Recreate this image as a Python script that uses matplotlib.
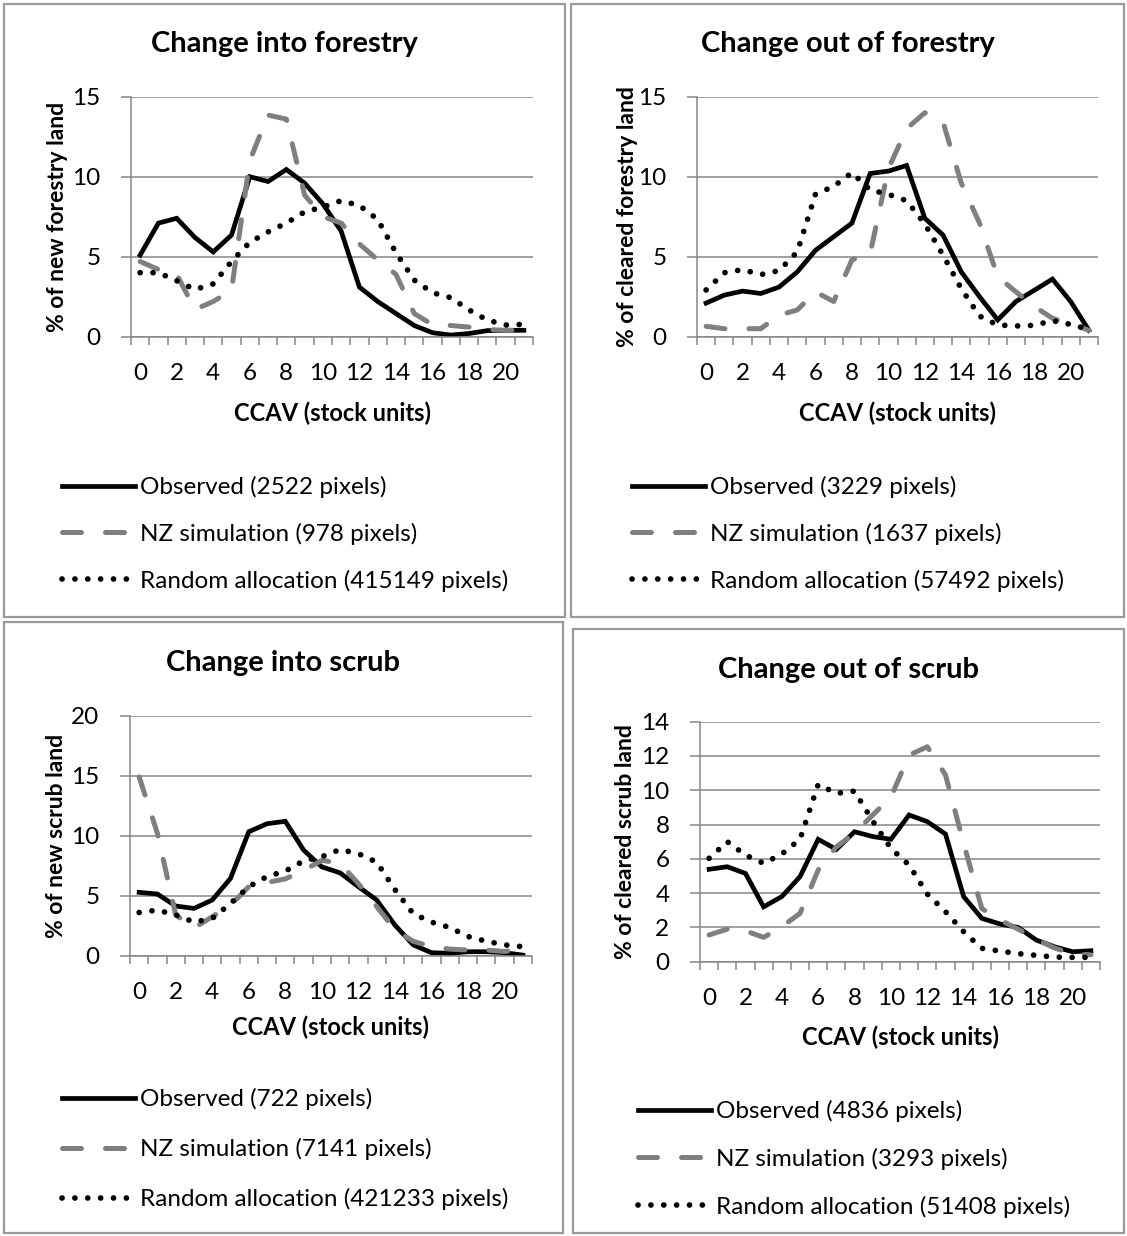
import matplotlib
matplotlib.use("Agg")
import matplotlib.pyplot as plt
import matplotlib.patches as patches

plt.rcParams["font.family"] = ["Lato", "DejaVu Sans"]

W, H = 1127, 1236

# ---- data ----
ccav = list(range(22))
xtick_labels = [str(v) for v in range(0, 21, 2)]

# Change into forestry
fi_obs = [5.1, 7.1, 7.4, 6.2, 5.3, 6.35, 10.0, 9.7, 10.45, 9.6, 8.3, 6.6,
          3.1, 2.2, 1.45, 0.7, 0.25, 0.1, 0.2, 0.38, 0.4, 0.4]
fi_nz = [4.7, 4.2, 3.9, 1.7, 2.2, 2.9, 11.0, 13.85, 13.6, 8.85, 7.5, 7.1,
         5.8, 4.8, 3.9, 1.45, 0.75, 0.7, 0.6, 0.45, 0.4, 0.4]
fi_rnd = [4.0, 4.0, 3.5, 2.95, 3.3, 4.7, 5.9, 6.55, 7.1, 7.8, 8.1, 8.5,
          8.2, 7.33, 5.25, 3.54, 2.75, 2.44, 1.67, 1.04, 0.73, 0.77]

# Change out of forestry
fo_obs = [2.1, 2.6, 2.85, 2.7, 3.1, 4.05, 5.4, 6.25, 7.1, 10.2, 10.35, 10.7,
          7.4, 6.35, 4.05, 2.5, 1.05, 2.2, 2.9, 3.6, 2.2, 0.4]
fo_nz = [0.65, 0.5, 0.5, 0.5, 1.35, 1.67, 2.8, 2.2, 4.8, 5.2, 10.5, 13.0,
         14.0, 13.4, 9.6, 7.1, 3.75, 2.8, 1.9, 1.15, 0.8, 0.4]
fo_rnd = [2.92, 4.0, 4.19, 3.88, 4.13, 5.3, 8.9, 9.4, 10.25, 9.17, 8.9, 8.5,
          7.04, 5.1, 3.0, 1.29, 0.73, 0.67, 0.71, 1.0, 0.77, 0.46]

# Change into scrub
si_obs = [5.28, 5.14, 4.14, 3.94, 4.64, 6.44, 10.33, 11.0, 11.2, 8.8, 7.4, 6.9,
          5.75, 4.64, 2.55, 0.9, 0.25, 0.2, 0.33, 0.33, 0.25, 0.05]
si_nz = [14.9, 10.2, 3.4, 2.3, 3.25, 4.2, 5.75, 6.1, 6.4, 7.1, 7.95, 7.7,
         6.0, 4.1, 2.15, 1.2, 0.75, 0.55, 0.47, 0.47, 0.35, 0.6]
si_rnd = [3.6, 3.8, 3.4, 2.8, 3.1, 4.35, 5.75, 6.6, 7.05, 7.9, 8.25, 8.85,
          8.5, 7.8, 5.5, 3.5, 2.8, 2.35, 1.6, 1.2, 0.9, 0.75]

# Change out of scrub
so_obs = [5.39, 5.54, 5.15, 3.2, 3.8, 4.96, 7.14, 6.55, 7.58, 7.3, 7.14, 8.56,
          8.17, 7.45, 3.8, 2.53, 2.2, 2.0, 1.26, 0.87, 0.58, 0.64]
so_nz = [1.56, 1.9, 1.8, 1.42, 2.04, 2.82, 5.35, 6.7, 7.5, 8.56, 9.6, 12.05,
         12.54, 10.9, 6.9, 3.1, 2.43, 1.9, 1.3, 0.8, 0.45, 0.4]
so_rnd = [6.03, 7.0, 6.22, 5.74, 6.28, 7.14, 10.34, 9.82, 9.95, 8.2, 6.61, 5.64,
          3.95, 2.92, 1.75, 0.78, 0.62, 0.47, 0.37, 0.27, 0.25, 0.25]

GRID = "#868686"
NZ_GREY = "#7f7f7f"
FS = 17.5


def px_box(x0, y0, x1, y1):
    # pixel box (top-left origin) -> figure fraction rect
    return [x0 / W, 1 - y1 / H, (x1 - x0) / W, (y1 - y0) / H]


def draw_panel(fig, frame, axbox, title, title_y, ylabel, ylab_x, xlab_y,
               ymax, ystep, obs, nz, rnd, counts, leg_xy, leg_space):
    # outer frame of the panel
    fx0, fy0, fx1, fy1 = frame
    fig.add_artist(patches.Rectangle((fx0 / W, 1 - fy1 / H), (fx1 - fx0) / W,
                                     (fy1 - fy0) / H, transform=fig.transFigure,
                                     fill=False, edgecolor="#9a9a9a", linewidth=1.6))
    fig.text((fx0 + fx1) / 2 / W, 1 - title_y / H, title, ha="center", va="center",
             fontsize=21, fontweight="bold")

    ax = fig.add_axes(px_box(*axbox))
    l1, = ax.plot(ccav, obs, color="black", linewidth=3.4, solid_joinstyle="miter")
    l2, = ax.plot(ccav, nz, color=NZ_GREY, linewidth=3.6, dashes=(3.8, 4.8),
                  dash_capstyle="round")
    l3, = ax.plot(ccav, rnd, color="black", linewidth=4.1, dashes=(0.01, 2.25),
                  dash_capstyle="round")

    ax.set_xlim(-0.5, 21.5)
    ax.set_ylim(0, ymax)
    ax.set_xticks([v - 0.5 for v in range(23)], minor=False)
    ax.set_xticklabels([])
    ax.set_xticks(range(0, 21, 2), minor=True)
    ax.set_xticklabels(xtick_labels, minor=True)
    ax.tick_params(axis="x", which="major", direction="out", length=6,
                   color=GRID, width=1.1)
    ax.tick_params(axis="x", which="minor", length=0, pad=19, labelsize=FS)
    ax.set_yticks(list(range(0, ymax + 1, ystep)))
    ax.tick_params(axis="y", direction="out", length=7, color=GRID, width=1.1,
                   pad=15, labelsize=FS)
    ax.yaxis.grid(True, color=GRID, linewidth=1.1)
    ax.set_axisbelow(True)
    for s in ("top", "right"):
        ax.spines[s].set_visible(False)
    for s in ("left", "bottom"):
        ax.spines[s].set_color(GRID)
        ax.spines[s].set_linewidth(1.1)

    fig.text(ylab_x / W, 1 - (axbox[1] + axbox[3]) / 2 / H, ylabel, rotation=90,
             ha="center", va="center", fontsize=16.5, fontweight="bold")
    fig.text((axbox[0] + axbox[2]) / 2 / W, 1 - xlab_y / H, "CCAV (stock units)",
             ha="center", va="center", fontsize=17, fontweight="bold")

    labels = ["Observed (%s pixels)" % counts[0],
              "NZ simulation (%s pixels)" % counts[1],
              "Random allocation (%s pixels)" % counts[2]]
    ax.legend([l1, l2, l3], labels, loc="upper left",
              bbox_to_anchor=(leg_xy[0] / W, 1 - leg_xy[1] / H),
              bbox_transform=fig.transFigure, frameon=False, borderpad=0,
              borderaxespad=0, handlelength=3.0, handletextpad=0.2,
              labelspacing=leg_space, fontsize=FS)
    return ax


fig = plt.figure(figsize=(W / 100, H / 100), dpi=100)

draw_panel(fig, (4, 4, 565, 617), (131, 96.7, 533, 336.7), "Change into forestry", 44,
           "% of new forestry land", 58, 413, 15, 5, fi_obs, fi_nz, fi_rnd,
           ("2522", "978", "415149"), (62, 476), 1.02)
draw_panel(fig, (571, 4, 1124, 617), (697, 96.7, 1098, 336.7), "Change out of forestry", 44,
           "% of cleared forestry land", 627, 413, 15, 5, fo_obs, fo_nz, fo_rnd,
           ("3229", "1637", "57492"), (632, 476), 1.02)
draw_panel(fig, (4, 622, 563, 1233), (130, 715.7, 532, 955.7), "Change into scrub", 663,
           "% of new scrub land", 57, 1027, 20, 5, si_obs, si_nz, si_rnd,
           ("722", "7141", "421233"), (62, 1088), 1.15)
draw_panel(fig, (573, 629, 1124, 1233), (700, 721.7, 1100, 961.7), "Change out of scrub", 670,
           "% of cleared scrub land", 625, 1037, 14, 2, so_obs, so_nz, so_rnd,
           ("4836", "3293", "51408"), (638, 1100), 1.06)

fig.savefig("out.png", dpi=100)
